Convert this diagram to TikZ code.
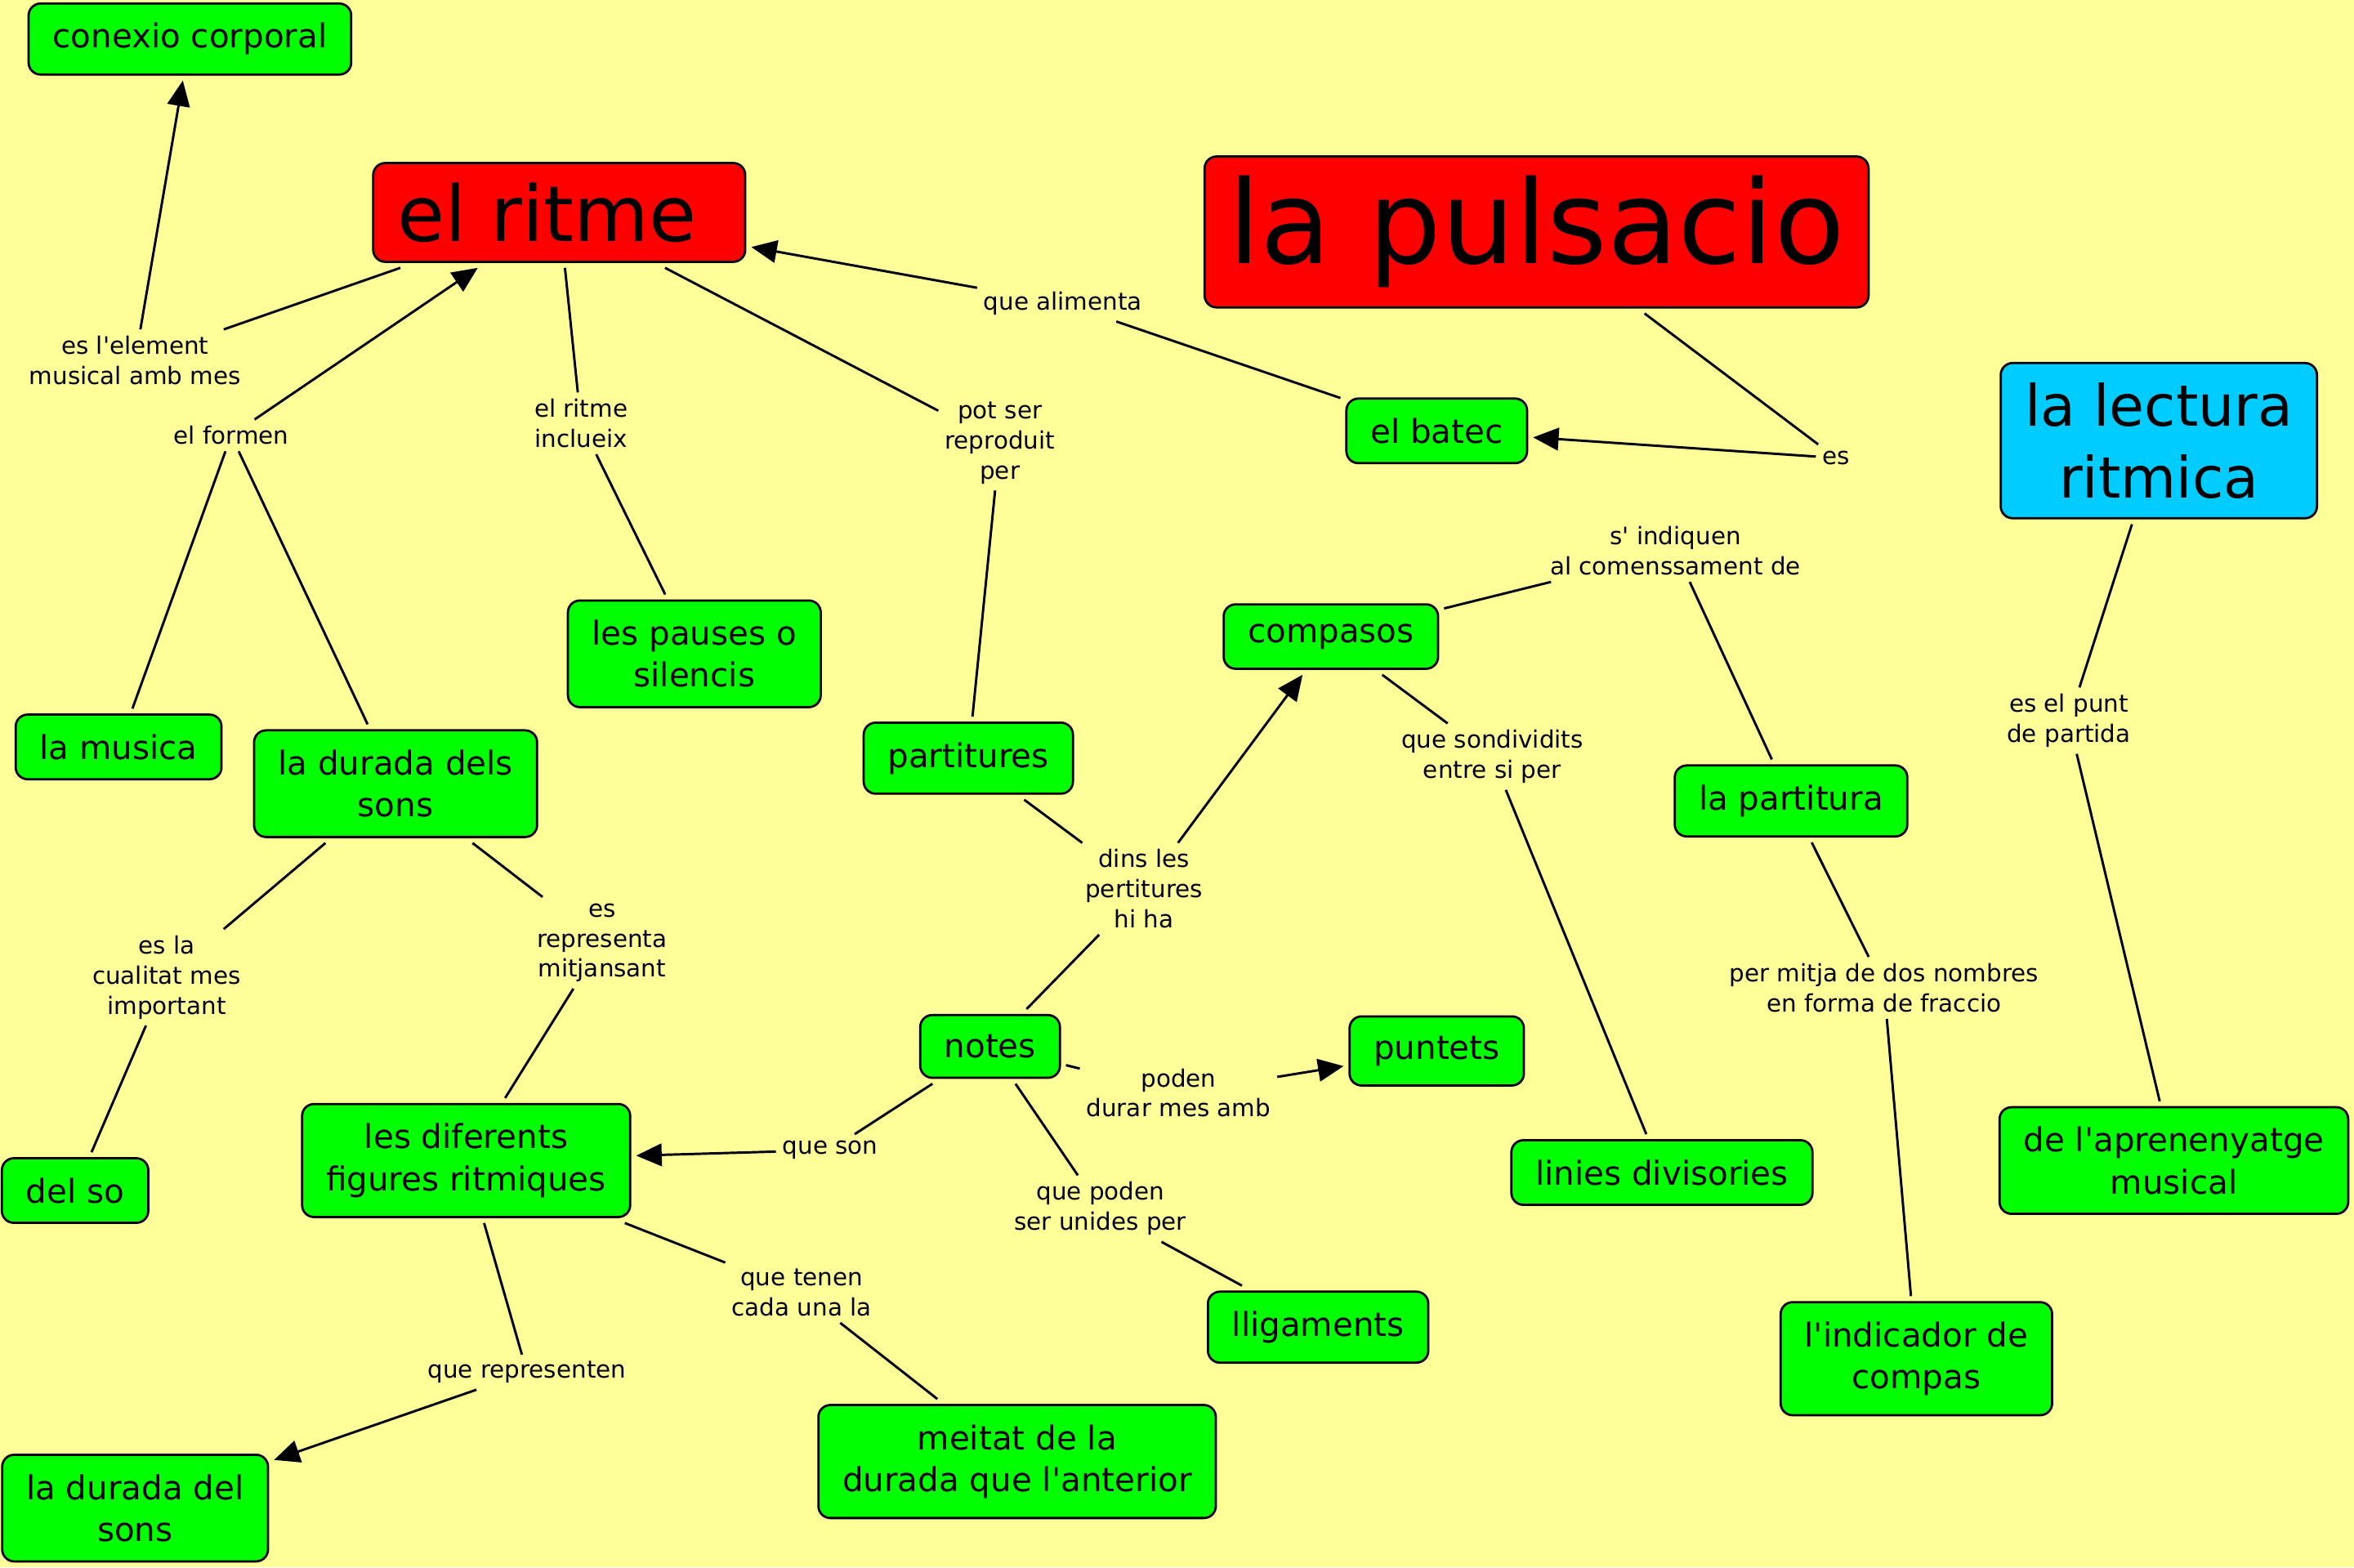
\documentclass[tikz,border=0pt]{standalone}
\usepackage{fontspec}
\setmainfont{DejaVu Sans}[Ligatures=TeXOff]
\usetikzlibrary{arrows.meta}
\definecolor{fons}{HTML}{FFFF99}
\definecolor{verd}{HTML}{00FF00}
\definecolor{vermell}{HTML}{FF0000}
\definecolor{blau}{HTML}{00CCFF}

\begin{document}
\begin{tikzpicture}[x=0.5pt, y=-0.5pt,
    concepte/.style={rectangle, rounded corners=4pt, draw, line width=0.75pt, fill=verd, align=center, inner xsep=8pt, inner ysep=6.5pt, outer sep=2pt, font=\fontsize{11}{14}\selectfont},
    enllac/.style={align=center, inner sep=2pt, font=\fontsize{8}{10}\selectfont},
    aresta/.style={line width=0.8pt},
    fletxa/.style={line width=0.8pt, -{Triangle[length=8.5pt, width=7.5pt]}}]

    % 背景
    \fill[fons] (0,0) rectangle (1568,1044);
    \useasboundingbox (0,0) rectangle (1568,1044);

    % 概念ノード
    \node[concepte] (conexio) at (126.5,26) {conexio corporal};
    \node[concepte, fill=vermell, font=\fontsize{25.7}{30}\selectfont] (ritme) at (372.5,141.5) {el ritme~};
    \node[concepte, fill=vermell, font=\fontsize{38.5}{46}\selectfont] (pulsacio) at (1023.5,154.5) {la pulsacio};
    \node[concepte, fill=blau, font=\fontsize{19}{24}\selectfont] (lectura) at (1438,293.5) {la lectura\\ritmica};
    \node[concepte] (batec) at (957,287) {el batec};
    \node[concepte] (compasos) at (886.5,424) {compasos};
    \node[concepte] (pauses) at (462.5,435.5) {les pauses o\\silencis};
    \node[concepte] (musica) at (79,497.5) {la musica};
    \node[concepte] (durada) at (263.5,522) {la durada dels\\sons};
    \node[concepte] (partitures) at (645,505) {partitures};
    \node[concepte] (partitura) at (1193,533.5) {la partitura};
    \node[concepte] (notes) at (659.5,697) {notes};
    \node[concepte] (puntets) at (957,700) {puntets};
    \node[concepte] (delso) at (50,793) {del so};
    \node[concepte] (figures) at (310.5,773) {les diferents\\figures ritmiques};
    \node[concepte] (linies) at (1107,781) {linies divisories};
    \node[concepte] (aprenentatge) at (1448,773) {de l'aprenenyatge\\musical};
    \node[concepte] (lligaments) at (878,884) {lligaments};
    \node[concepte] (indicador) at (1276.5,905) {l'indicador de\\compas};
    \node[concepte] (meitat) at (677.5,973.5) {meitat de la\\durada que l'anterior};
    \node[concepte] (duradasons) at (90,1004.5) {la durada del\\sons};

    % リンクラベル
    \node[enllac] (lElement) at (90,240) {es l'element\\musical amb mes};
    \node[enllac] (lFormen) at (154,290) {el formen};
    \node[enllac] (lInclueix) at (387,282) {el ritme\\inclueix};
    \node[enllac] (lReproduit) at (666,295) {pot ser\\reproduit\\per};
    \node[enllac] (lAlimenta) at (708,202) {que alimenta};
    \node[enllac] (lEs) at (1223,305) {es};
    \node[enllac] (lIndiquen) at (1116,367) {s' indiquen\\al comenssament de};
    \node[enllac] (lDividits) at (994,504) {que sondividits\\entre si per};
    \node[enllac] (lPunt) at (1378,480) {es el punt\\de partida};
    \node[enllac] (lDins) at (762,592) {dins les\\pertitures\\hi ha};
    \node[enllac] (lCualitat) at (111,651) {es la\\cualitat mes\\important};
    \node[enllac] (lRepresenta) at (401,628) {es\\representa\\mitjansant};
    \node[enllac] (lFraccio) at (1255,658) {per mitja de dos nombres\\en forma de fraccio};
    \node[enllac] (lDurar) at (785,728) {poden\\durar mes amb};
    \node[enllac] (lSon) at (553,766) {que son};
    \node[enllac] (lUnides) at (733,805) {que poden\\ser unides per};
    \node[enllac] (lTenen) at (534,861) {que tenen\\cada una la};
    \node[enllac] (lRepresenten) at (351,914) {que representen};

    % エッジ
    \draw[aresta] (ritme) -- (lElement);
    \draw[fletxa] (lElement) -- (conexio);
    \draw[aresta] (musica) -- (lFormen);
    \draw[aresta] (durada) -- (lFormen);
    \draw[fletxa] (lFormen) -- (ritme);
    \draw[aresta] (ritme) -- (lInclueix);
    \draw[aresta] (lInclueix) -- (pauses);
    \draw[aresta] (ritme) -- (lReproduit);
    \draw[aresta] (lReproduit) -- (partitures);
    \draw[aresta] (batec) -- (lAlimenta);
    \draw[fletxa] (lAlimenta) -- (ritme);
    \draw[aresta] (pulsacio) -- (lEs);
    \draw[fletxa] (lEs) -- (batec);
    \draw[aresta] (partitura) -- (lIndiquen);
    \draw[aresta] (lIndiquen) -- (compasos);
    \draw[aresta] (compasos) -- (lDividits);
    \draw[aresta] (lDividits) -- (linies);
    \draw[aresta] (lectura) -- (lPunt);
    \draw[aresta] (lPunt) -- (aprenentatge);
    \draw[aresta] (partitures) -- (lDins);
    \draw[aresta] (notes) -- (lDins);
    \draw[fletxa] (lDins) -- (compasos);
    \draw[aresta] (partitura) -- (lFraccio);
    \draw[aresta] (lFraccio) -- (indicador);
    \draw[aresta] (durada) -- (lCualitat);
    \draw[aresta] (lCualitat) -- (delso);
    \draw[aresta] (durada) -- (lRepresenta);
    \draw[aresta] (lRepresenta) -- (figures);
    \draw[aresta] (notes) -- (lDurar);
    \draw[fletxa] (lDurar) -- (puntets);
    \draw[aresta] (notes) -- (lSon);
    \draw[fletxa] (lSon) -- (figures);
    \draw[aresta] (notes) -- (lUnides);
    \draw[aresta] (lUnides) -- (lligaments);
    \draw[aresta] (figures) -- (lTenen);
    \draw[aresta] (lTenen) -- (meitat);
    \draw[aresta] (figures) -- (lRepresenten);
    \draw[fletxa] (lRepresenten) -- (duradasons);
\end{tikzpicture}
\end{document}
